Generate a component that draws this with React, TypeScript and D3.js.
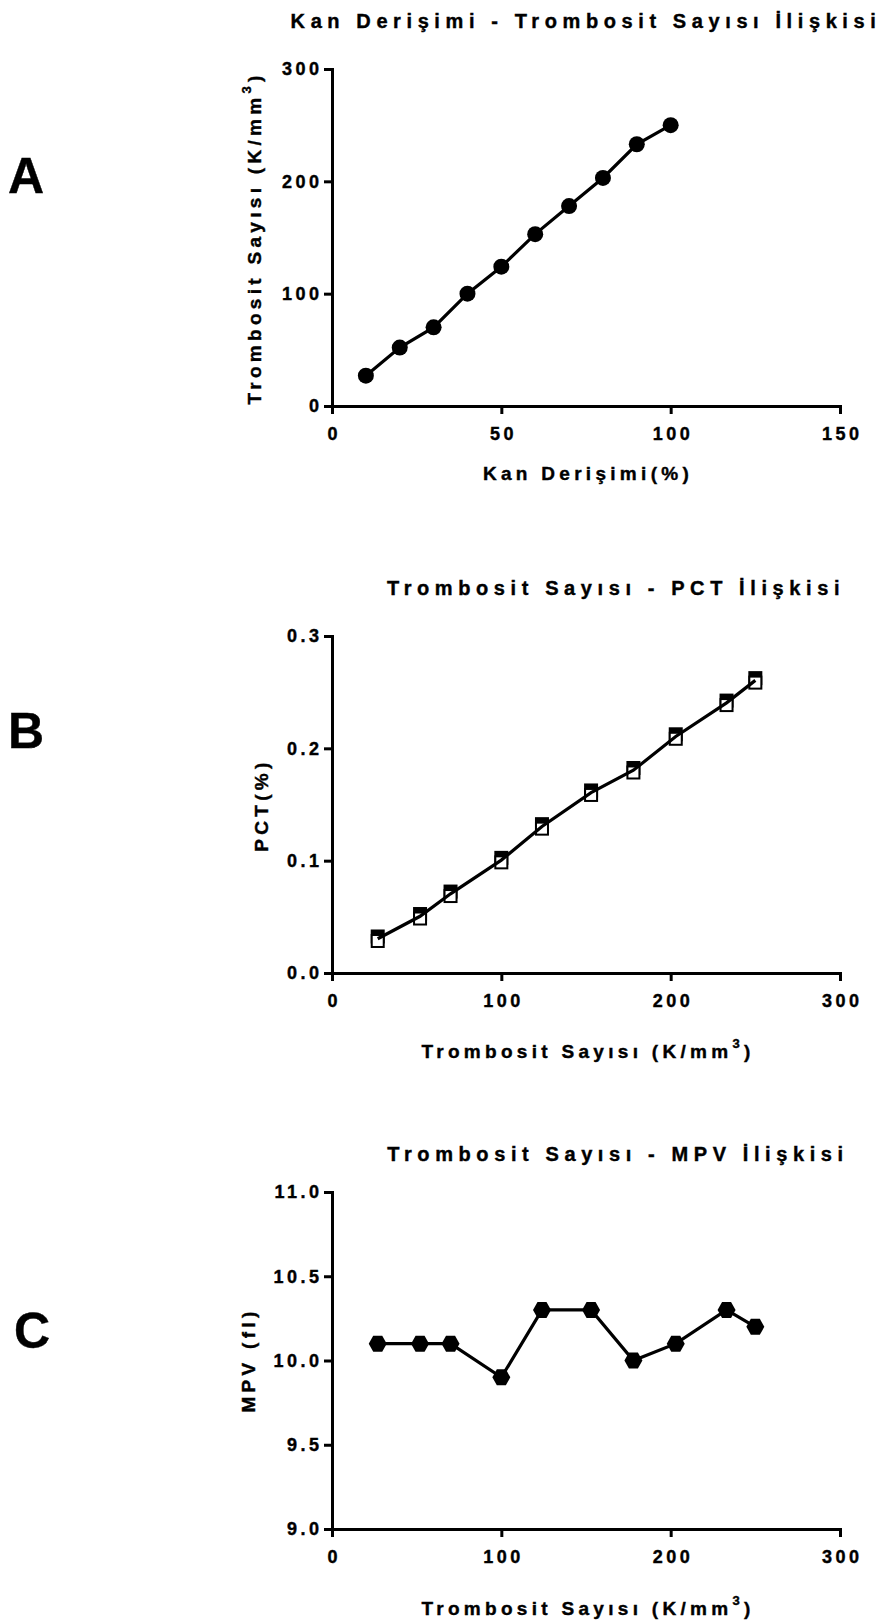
import React, { useRef, useEffect } from 'react';
import * as d3 from 'd3';

// values
const concentration = [10, 20, 30, 40, 50, 60, 70, 80, 90, 100];
const plateletCount = [27, 52, 70, 100, 124, 153, 178, 203, 233, 250];
const pctFilled = [0.0325, 0.0525, 0.0725, 0.1025, 0.1325, 0.1625, 0.1825, 0.2125, 0.2425, 0.2625];
const pctOpen = [0.0285, 0.0485, 0.0685, 0.0985, 0.1285, 0.1585, 0.1785, 0.2085, 0.2385, 0.2585];
const mpv = [10.1, 10.1, 10.1, 9.9, 10.3, 10.3, 10.0, 10.1, 10.3, 10.2];

const ticksA_x = [0, 50, 100, 150];
const ticksA_y = [0, 100, 200, 300];
const ticksB_x = [0, 100, 200, 300];
const ticksB_y = [0, 0.1, 0.2, 0.3];
const ticksC_y = [9, 9.5, 10, 10.5, 11];

const FONT = "'Liberation Sans', Arial, sans-serif";

const App = () => {
  const svgRef = useRef<SVGSVGElement>(null);

  useEffect(() => {
    const svg = d3.select(svgRef.current);
    svg.selectAll("*").remove();

    const left = 332, right = 840;

    const addText = (x, y, txt, size, ls, anchor = "middle") =>
      svg.append("text")
        .attr("x", x).attr("y", y)
        .attr("text-anchor", anchor)
        .attr("font-family", FONT)
        .attr("font-weight", "bold")
        .attr("font-size", size)
        .attr("letter-spacing", ls)
        .attr("stroke", "#000")
        .attr("stroke-width", 0.4)
        .text(txt);

    // "Trombosit Sayısı (K/mm³)" with a raised 3
    const addUnitLabel = (x, y, rotate) => {
      const t = svg.append("text")
        .attr("text-anchor", "middle")
        .attr("font-family", FONT)
        .attr("font-weight", "bold")
        .attr("font-size", 19)
        .attr("letter-spacing", 4.3)
        .attr("stroke", "#000")
        .attr("stroke-width", 0.4)
        .attr("transform", `translate(${x},${y}) rotate(${rotate})`);
      t.append("tspan").text("Trombosit Sayısı (K/mm");
      t.append("tspan").attr("dy", -10).attr("font-size", 13).text("3");
      t.append("tspan").attr("dy", 10).text(")");
    };

    const drawAxes = (x, y, xTicks, yTicks, yFmt) => {
      const [y0] = y.range();
      const gx = svg.append("g")
        .attr("transform", `translate(0,${y0})`)
        .call(d3.axisBottom(x).tickValues(xTicks).tickSize(8).tickSizeOuter(0).tickPadding(13));
      const gy = svg.append("g")
        .attr("transform", `translate(${left},0)`)
        .call(d3.axisLeft(y).tickValues(yTicks).tickSize(8).tickSizeOuter(0).tickPadding(5).tickFormat(yFmt));
      [gx, gy].forEach(g => {
        g.select(".domain").attr("stroke-width", 3).attr("stroke-linecap", "square");
        g.selectAll(".tick line").attr("stroke-width", 3);
        g.selectAll(".tick text")
          .attr("font-family", FONT)
          .attr("font-weight", "bold")
          .attr("font-size", 18)
          .attr("letter-spacing", 3.5)
          .attr("stroke", "#000")
          .attr("stroke-width", 0.4)
          .attr("fill", "#000");
      });
      gx.selectAll(".tick text").attr("dx", 1.75);
      gy.selectAll(".tick text").attr("dx", 3.5);
    };

    const drawLine = (xs, ys, x, y) => {
      const pts = xs.map((v, i) => [x(v), y(ys[i])]);
      svg.append("path")
        .attr("d", d3.line()(pts))
        .attr("fill", "none")
        .attr("stroke", "#000")
        .attr("stroke-width", 3.2);
    };

    // ---- A ----
    const xA = d3.scaleLinear().domain([0, 150]).range([left, right]);
    const yA = d3.scaleLinear().domain([0, 300]).range([406, 69]);
    addText(586, 28, "Kan Derişimi - Trombosit Sayısı İlişkisi", 20, 5.6);
    drawAxes(xA, yA, ticksA_x, ticksA_y, d3.format("d"));
    drawLine(concentration, plateletCount, xA, yA);
    svg.append("g").selectAll("circle")
      .data(concentration)
      .enter().append("circle")
      .attr("cx", d => xA(d))
      .attr("cy", (d, i) => yA(plateletCount[i]))
      .attr("r", 8)
      .attr("fill", "#000");
    addText(588, 480, "Kan Derişimi(%)", 19, 4.3);
    addUnitLabel(261, 238, -90);
    addText(8, 193, "A", 50, 0, "start");

    // ---- B ----
    const xB = d3.scaleLinear().domain([0, 300]).range([left, right]);
    const yB = d3.scaleLinear().domain([0, 0.3]).range([973, 636]);
    addText(616, 595, "Trombosit Sayısı - PCT İlişkisi", 20, 5.6);
    drawAxes(xB, yB, ticksB_x, ticksB_y, d3.format(".1f"));
    const sq = 14;
    svg.append("g").selectAll("rect")
      .data(plateletCount)
      .enter().append("rect")
      .attr("x", d => xB(d) - sq / 2)
      .attr("y", (d, i) => yB(pctFilled[i]) - sq / 2)
      .attr("width", sq).attr("height", sq)
      .attr("fill", "#000");
    svg.append("g").selectAll("rect")
      .data(plateletCount)
      .enter().append("rect")
      .attr("x", d => xB(d) - sq / 2 + 1)
      .attr("y", (d, i) => yB(pctOpen[i]) - sq / 2 + 1)
      .attr("width", sq - 2).attr("height", sq - 2)
      .attr("fill", "#fff")
      .attr("stroke", "#000")
      .attr("stroke-width", 2);
    drawLine(plateletCount, pctFilled.map((v, i) => (v + pctOpen[i]) / 2), xB, yB);
    addUnitLabel(588, 1058, 0);
    addText(268, 805, "PCT(%)", 19, 4.3).attr("transform", "rotate(-90,268,805)");
    addText(8, 748, "B", 50, 0, "start");

    // ---- C ----
    const yC = d3.scaleLinear().domain([9, 11]).range([1529, 1192]);
    addText(618, 1161, "Trombosit Sayısı - MPV İlişkisi", 20, 5.6);
    drawAxes(xB, yC, ticksB_x, ticksC_y, d3.format(".1f"));
    drawLine(plateletCount, mpv, xB, yC);
    const hw = 9, hh = 8;
    const hex = [[-hw, 0], [-hw / 2, -hh], [hw / 2, -hh], [hw, 0], [hw / 2, hh], [-hw / 2, hh]];
    svg.append("g").selectAll("path")
      .data(plateletCount)
      .enter().append("path")
      .attr("transform", (d, i) => `translate(${xB(d)},${yC(mpv[i])})`)
      .attr("d", "M" + hex.map(p => p.join(",")).join("L") + "Z")
      .attr("fill", "#000");
    addUnitLabel(588, 1615, 0);
    addText(255, 1360, "MPV (fl)", 19, 4.3).attr("transform", "rotate(-90,255,1360)");
    addText(14, 1348, "C", 50, 0, "start");
  }, []);

  return (
    <svg
      ref={svgRef}
      width={888}
      height={1622}
      style={{ position: "absolute", left: 0, top: 0, background: "#fff" }}
    />
  );
};

export default App;
